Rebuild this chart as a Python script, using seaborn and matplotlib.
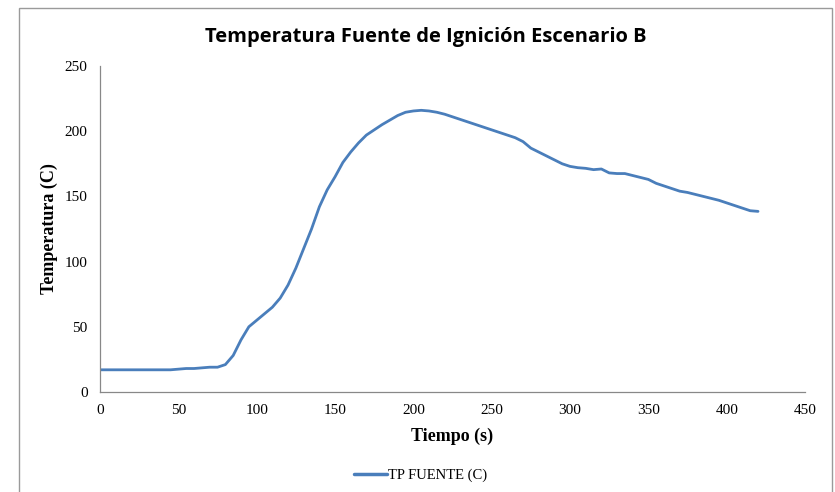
import matplotlib
matplotlib.use("Agg")
import matplotlib.pyplot as plt
from matplotlib.patches import Rectangle
import seaborn as sns
import pandas as pd

# data
tiempo = [0, 5, 10, 15, 20, 25, 30, 35, 40, 45, 50, 55, 60, 65, 70, 75, 80, 85,
          90, 95, 100, 105, 110, 115, 120, 125, 130, 135, 140, 145, 150, 155,
          160, 165, 170, 175, 180, 185, 190, 195, 200, 205, 210, 215, 220, 225,
          230, 235, 240, 245, 250, 255, 260, 265, 270, 275, 280, 285, 290, 295,
          300, 305, 310, 315, 320, 325, 330, 335, 340, 345, 350, 355, 360, 365,
          370, 375, 380, 385, 390, 395, 400, 405, 410, 415, 420]
temperatura = [17, 17, 17, 17, 17, 17, 17, 17, 17, 17, 17.5, 18, 18, 18.5, 19, 19,
               21, 28, 40, 50, 55, 60, 65, 72, 82, 95, 110, 125, 142, 155, 165,
               176, 184, 191, 197, 201, 205, 208.5, 212, 214.5, 215.5, 216, 215.5,
               214.5, 213, 211, 209, 207, 205, 203, 201, 199, 197, 195, 192, 187,
               184, 181, 178, 175, 173, 172, 171.5, 170.5, 171, 168, 167.5, 167.5,
               166, 164.5, 163, 160, 158, 156, 154, 153, 151.5, 150, 148.5, 147,
               145, 143, 141, 139, 138.5]
serie = "TP FUENTE (C)"

df = pd.DataFrame({"Tiempo": tiempo, "Temperatura": temperatura, "Serie": serie})

sns.set_style("white")
plt.rcParams["font.family"] = ["Liberation Serif", "DejaVu Serif"]
plt.rcParams["text.color"] = "black"

fig = plt.figure(figsize=(8.35, 4.92), dpi=100)
ax = fig.add_axes([0.1198, 0.2033, 0.8443, 0.6626])

sns.lineplot(data=df, x="Tiempo", y="Temperatura", hue="Serie",
             palette=["#4a7ebb"], linewidth=2.0, ax=ax)

ax.set_xlim(0, 450)
ax.set_ylim(0, 250)
ax.set_xticks(range(0, 451, 50))
ax.set_yticks(range(0, 251, 50))
ax.tick_params(axis="both", length=0, labelsize=11, pad=9, labelcolor="black")

for side in ["top", "right"]:
    ax.spines[side].set_visible(False)
for side in ["left", "bottom"]:
    ax.spines[side].set_color("#888888")
    ax.spines[side].set_linewidth(0.9)

ax.set_xlabel("Tiempo (s)", fontsize=13, fontweight="bold", labelpad=7, color="black")
ax.set_ylabel("Temperatura (C)", fontsize=13, fontweight="bold", labelpad=5, color="black")

fig.suptitle("Temperatura Fuente de Ignición Escenario B", x=0.51, y=0.945,
             fontsize=14.5, fontweight="bold", family=["Open Sans", "DejaVu Sans"],
             color="black")

leg = ax.legend(loc="upper center", bbox_to_anchor=(0.455, -0.195), frameon=False,
                fontsize=10.5, handlelength=2.2, handletextpad=0.1)
for line in leg.get_lines():
    line.set_linewidth(2.5)

# chart frame like the spreadsheet export
fig.patches.append(Rectangle((19 / 835, -0.02), (832 - 19) / 835, 1.02 - 8 / 492,
                             transform=fig.transFigure, fill=False,
                             edgecolor="#9a9a9a", linewidth=1.0))

fig.savefig("out.png", dpi=100)
